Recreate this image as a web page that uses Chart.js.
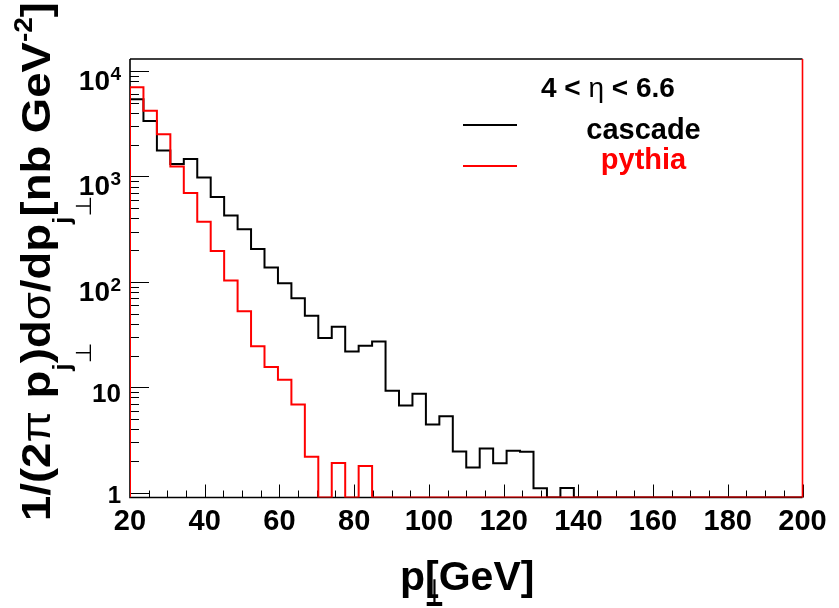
<!DOCTYPE html>
<html>
<head>
<meta charset="utf-8">
<script src="https://cdn.jsdelivr.net/npm/chart.js@4/dist/chart.umd.min.js"></script>
<style>
    html, body { margin: 0; padding: 0; background: #fff; }
    canvas { display: block; }
</style>
</head>
<body>
<canvas id="chart" width="839" height="608"></canvas>
<script>
const P_MIN = 20
const P_MAX = 200
const BIN_WIDTH = 3.6
const Y_MIN = 0.9
const Y_MAX = 13000

// 1/(2pi pT) dsigma/dpT per 3.6 GeV bin (0 = empty bin)
const cascade = [
    5400, 3360, 1760, 1315, 1460, 975, 637, 426, 316, 205,
    137, 97, 70, 47.8, 29.4, 37.4, 21.8, 24.8, 27.1, 9.25,
    6.7, 8.67, 4.44, 5.32, 2.46, 1.73, 2.63, 1.9, 2.5, 2.44,
    1.1, 0, 1.11, 0, 0, 0, 0, 0, 0, 0,
    0, 0, 0, 0, 0, 0, 0, 0, 0, 0
]
const pythia = [
    7000, 4200, 2510, 1240, 695, 372, 196, 103, 52.5, 24.5,
    15.6, 11.8, 6.86, 2.19, 0, 1.91, 0, 1.79, 0, 0,
    0, 0, 0, 0, 0, 0, 0, 0, 0, 0,
    0, 0, 0, 0, 0, 0, 0, 0, 0, 0,
    0, 0, 0, 0, 0, 0, 0, 0, 0, 0
]

const x_ticks = [20, 40, 60, 80, 100, 120, 140, 160, 180, 200]
const y_tick_exponents = [0, 1, 2, 3, 4]

const FONT = '"Liberation Sans", Arial, "DejaVu Sans", sans-serif'

function histogram_points(values) {
    // step outline: point k sits on the low edge of bin k
    let points = [{x: P_MIN, y: Y_MIN}]
    values.forEach((v, k) => {
        points.push({x: P_MIN + k * BIN_WIDTH, y: v > 0 ? v : Y_MIN})
    })
    let last = values[values.length - 1]
    points.push({x: P_MAX, y: last > 0 ? last : Y_MIN})
    return points
}

function draw_rich(ctx, parts, x, y) {
    let cur = x
    parts.forEach(p => {
        ctx.font = `${p.bold === false ? '' : 'bold '}${p.size}px ${FONT}`
        let start = cur
        let sx = p.sx || 1
        ctx.save()
        ctx.translate(start, y + (p.dy || 0))
        ctx.scale(sx, 1)
        ctx.fillText(p.t, 0, 0)
        ctx.restore()
        let end = start + ctx.measureText(p.t).width * sx
        if (p.adv !== false) cur = Math.max(cur, end)
    })
    return cur
}

const root_style = {
    id: 'root_style',
    beforeDatasetsDraw(chart) {
        let ctx = chart.ctx
        let a = chart.chartArea
        let xs = chart.scales.x
        let ys = chart.scales.y
        ctx.save()
        ctx.lineWidth = 1
        ctx.strokeStyle = '#000'
        ctx.beginPath()
        // x ticks (inside the frame)
        for (let v = P_MIN; v <= P_MAX; v += 5) {
            let px = Math.round(xs.getPixelForValue(v)) + 0.5
            let len = v % 20 === 0 ? 13 : 7
            ctx.moveTo(px, a.bottom)
            ctx.lineTo(px, a.bottom - len)
        }
        // y ticks
        y_tick_exponents.forEach(e => {
            for (let m = 1; m <= 9; m++) {
                let v = m * Math.pow(10, e)
                if (v > Y_MAX) break
                let py = Math.round(ys.getPixelForValue(v)) + 0.5
                ctx.moveTo(a.left, py)
                ctx.lineTo(a.left + (m === 1 ? 19 : 9), py)
            }
        })
        ctx.stroke()
        // frame
        ctx.lineWidth = 1.6
        ctx.beginPath()
        ctx.moveTo(a.left, a.top)
        ctx.lineTo(a.right, a.top)
        ctx.moveTo(a.left, a.top)
        ctx.lineTo(a.left, a.bottom)
        ctx.lineTo(a.right, a.bottom)
        ctx.stroke()
        ctx.strokeStyle = '#ff0000'
        ctx.beginPath()
        ctx.moveTo(a.right, a.top)
        ctx.lineTo(a.right, a.bottom)
        ctx.stroke()
        ctx.restore()
    },
    afterDraw(chart) {
        let ctx = chart.ctx
        let xs = chart.scales.x
        let ys = chart.scales.y
        ctx.save()
        ctx.fillStyle = '#000'

        // x tick labels
        ctx.textAlign = 'center'
        ctx.textBaseline = 'alphabetic'
        ctx.font = `bold 29px ${FONT}`
        x_ticks.forEach(v => {
            ctx.fillText(String(v), xs.getPixelForValue(v), 530)
        })

        // y tick labels
        ctx.textAlign = 'right'
        y_tick_exponents.forEach(e => {
            let py = ys.getPixelForValue(Math.pow(10, e))
            if (e === 0) {
                ctx.font = `bold 24px ${FONT}`
                ctx.fillText('1', 121, py + 10.5)
            } else if (e === 1) {
                ctx.font = `bold 26px ${FONT}`
                ctx.fillText('10', 121, py + 15)
            } else {
                ctx.font = `bold 28px ${FONT}`
                ctx.fillText('10', 110, py + 19)
                ctx.font = `bold 19px ${FONT}`
                ctx.fillText(String(e), 121, py + 9)
            }
        })

        // x title
        ctx.textAlign = 'left'
        draw_rich(ctx, [
            {t: 'p', size: 41},
            {t: '\u22A5', size: 38, dy: 16, adv: false, sx: 0.55},
            {t: '[GeV]', size: 41}
        ], 400, 590)

        // y title, rotated
        ctx.save()
        ctx.translate(50, 521)
        ctx.rotate(-Math.PI / 2)
        ctx.scale(1, 0.9)
        draw_rich(ctx, [
            {t: '1/(2', size: 45.5},
            {t: '\u03C0', size: 45.5, bold: false},
            {t: ' p', size: 45.5},
            {t: 'j', size: 27, dy: 22},
            {t: '\u22A5', size: 24, dy: 46, adv: false, bold: false},
            {t: ')d', size: 45.5},
            {t: '\u03C3', size: 45.5, bold: false},
            {t: '/dp', size: 45.5},
            {t: 'j', size: 27, dy: 22},
            {t: '\u22A5', size: 24, dy: 46, adv: false, bold: false},
            {t: '[nb GeV', size: 45.5},
            {t: '-2', size: 28, dy: -20},
            {t: ']', size: 45.5}
        ], 0, 0)
        ctx.restore()

        // legend
        draw_rich(ctx, [
            {t: '4 < ', size: 28},
            {t: '\u03B7', size: 28, bold: false},
            {t: ' < 6.6', size: 28}
        ], 541, 96.5)
        ctx.lineWidth = 2
        ctx.strokeStyle = '#000'
        ctx.beginPath()
        ctx.moveTo(463, 125)
        ctx.lineTo(517, 125)
        ctx.stroke()
        ctx.strokeStyle = '#ff0000'
        ctx.beginPath()
        ctx.moveTo(463, 166)
        ctx.lineTo(517, 166)
        ctx.stroke()
        ctx.textAlign = 'center'
        ctx.font = `bold 29px ${FONT}`
        ctx.fillStyle = '#000'
        ctx.fillText('cascade', 643.5, 139)
        ctx.fillStyle = '#ff0000'
        ctx.fillText('pythia', 643.5, 169)
        ctx.restore()
    }
}

new Chart(document.getElementById('chart').getContext('2d'), {
    'type': 'line',
    'data': {
        'datasets': [{
            'label': 'pythia',
            'data': histogram_points(pythia),
            'borderColor': '#ff0000',
            'borderWidth': 2,
            'order': 0
        }, {
            'label': 'cascade',
            'data': histogram_points(cascade),
            'borderColor': '#000000',
            'borderWidth': 2,
            'order': 1
        }]
    },
    'options': {
        'responsive': false,
        'animation': false,
        'devicePixelRatio': 1,
        'elements': {
            'point': {'radius': 0},
            'line': {'stepped': 'before', 'tension': 0, 'fill': false}
        },
        'layout': {
            'padding': {'left': 130, 'top': 59, 'right': 36.5, 'bottom': 110.5}
        },
        'plugins': {
            'legend': {'display': false},
            'tooltip': {'enabled': false}
        },
        'scales': {
            'x': {'type': 'linear', 'min': P_MIN, 'max': P_MAX, 'display': false},
            'y': {'type': 'logarithmic', 'min': Y_MIN, 'max': Y_MAX, 'display': false}
        }
    },
    'plugins': [root_style]
})
</script>
</body>
</html>
